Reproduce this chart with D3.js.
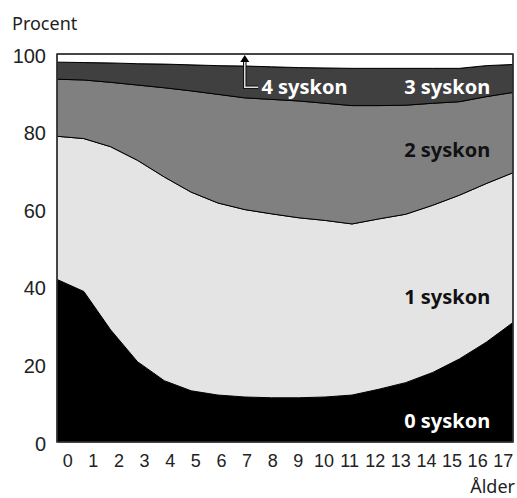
<!DOCTYPE html>
<html>
<head>
<meta charset="utf-8">
<script src="https://cdn.jsdelivr.net/npm/d3@7"></script>
<style>
  body { margin: 0; background: #fff; }
  svg { display: block; font-family: "Noto Sans", sans-serif; }
</style>
</head>
<body>
<div id="chart"></div>
<script>
// ålder 0-17, andel barn (procent) efter antal syskon
const ages = d3.range(0, 18);
const keys = ["s0", "s1", "s2", "s3", "s4"];
const syskon0 = [41.9, 38.8, 28.9, 20.7, 15.8, 13.2, 12.1, 11.6, 11.4, 11.4, 11.6, 12.1, 13.6, 15.3, 17.9, 21.4, 25.7, 30.8];
const syskon1 = [36.9, 39.4, 47.2, 51.9, 52.5, 51.2, 49.5, 48.3, 47.4, 46.4, 45.5, 44.1, 43.9, 43.4, 43.1, 42.2, 40.9, 38.6];
const syskon2 = [14.7, 15.1, 16.6, 19.4, 23.0, 26.1, 28.0, 28.8, 29.5, 30.1, 30.2, 30.5, 29.2, 28.1, 26.3, 24.1, 22.4, 20.7];
const syskon3 = [4.4, 4.5, 5.0, 5.5, 6.1, 6.7, 7.4, 8.2, 8.4, 8.6, 9.1, 9.6, 9.6, 9.5, 9.0, 8.6, 8.0, 7.2];
const syskon4 = [2.1, 2.2, 2.3, 2.5, 2.6, 2.8, 3.0, 3.1, 3.3, 3.5, 3.6, 3.7, 3.7, 3.7, 3.7, 3.7, 3.0, 2.7];
const yTicks = [0, 20, 40, 60, 80, 100];
const seriesLabels = ["0 syskon", "1 syskon", "2 syskon", "3 syskon", "4 syskon"];

const width = 517;
const height = 498;
const margin = { top: 54, right: 4, bottom: 56, left: 57 };

const fills = { s0: "#000", s1: "#e4e4e4", s2: "#808080", s3: "#404040", s4: "#fff" };

const table = ages.map((a, i) => ({
  age: a,
  s0: syskon0[i],
  s1: syskon1[i],
  s2: syskon2[i],
  s3: syskon3[i],
  s4: syskon4[i],
}));

const stacked = d3.stack().keys(keys)(table);

const x = d3.scaleLinear()
  .domain(d3.extent(ages))
  .range([margin.left, width - margin.right]);

const xTick = d3.scalePoint()
  .domain(ages)
  .range([margin.left, width - margin.right])
  .padding(0.4);

const y = d3.scaleLinear()
  .domain([0, 100])
  .range([height - margin.bottom, margin.top]);

const area = d3.area()
  .x((d) => x(d.data.age))
  .y0((d) => y(d[0]))
  .y1((d) => y(d[1]));

const svg = d3.select("#chart")
  .append("svg")
  .attr("width", width)
  .attr("height", height)
  .attr("viewBox", [0, 0, width, height]);

svg.append("g")
  .selectAll("path")
  .data(stacked)
  .join("path")
  .attr("fill", (d) => fills[d.key])
  .attr("stroke", "#000")
  .attr("stroke-width", 1)
  .attr("stroke-linejoin", "round")
  .attr("d", area);

// ram
svg.append("rect")
  .attr("x", margin.left)
  .attr("y", margin.top)
  .attr("width", width - margin.left - margin.right)
  .attr("height", height - margin.top - margin.bottom)
  .attr("fill", "none")
  .attr("stroke", "#333")
  .attr("stroke-width", 1.5);

// y-axel
const gY = svg.append("g")
  .attr("transform", `translate(${margin.left},0)`)
  .call(d3.axisLeft(y).tickValues(yTicks).tickSize(0).tickPadding(11));
gY.select(".domain").remove();
gY.selectAll("text")
  .attr("font-size", 20)
  .attr("fill", "#222")
  .attr("dy", "0.4em");

svg.append("text")
  .attr("x", 12)
  .attr("y", 30)
  .attr("font-size", 18)
  .attr("fill", "#222")
  .text("Procent");

// x-axel
const gX = svg.append("g")
  .attr("transform", `translate(0,${height - margin.bottom})`)
  .call(d3.axisBottom(xTick).tickSize(0).tickPadding(12));
gX.select(".domain").remove();
gX.selectAll("text")
  .attr("font-size", 18)
  .attr("fill", "#222");

svg.append("text")
  .attr("x", width - 2)
  .attr("y", height - 5)
  .attr("text-anchor", "end")
  .attr("font-size", 18)
  .attr("fill", "#222")
  .text("Ålder");

// etiketter
const labelPos = [
  { i: 0, age: 16.15, v: 5.4, anchor: "end", color: "#fff" },
  { i: 1, age: 16.15, v: 37.4, anchor: "end", color: "#111" },
  { i: 2, age: 16.15, v: 75.3, anchor: "end", color: "#111" },
  { i: 3, age: 16.15, v: 91.4, anchor: "end", color: "#fff" },
  { i: 4, age: 7.62, v: 91.4, anchor: "start", color: "#fff" },
];

svg.append("g")
  .selectAll("text")
  .data(labelPos)
  .join("text")
  .attr("x", (d) => x(d.age))
  .attr("y", (d) => y(d.v))
  .attr("dy", "0.35em")
  .attr("text-anchor", (d) => d.anchor)
  .attr("font-size", 20)
  .attr("font-weight", "bold")
  .attr("fill", (d) => d.color)
  .text((d) => seriesLabels[d.i]);

// pil till 4 syskon
const ax = x(7);
const ay = y(91.4);
const arrowPath = `M${x(7.5)},${ay} H${ax} V${y(98.5)}`;
svg.append("path")
  .attr("d", arrowPath)
  .attr("fill", "none")
  .attr("stroke", "#111")
  .attr("stroke-width", 3.5);
svg.append("path")
  .attr("d", arrowPath)
  .attr("fill", "none")
  .attr("stroke", "#ddd")
  .attr("stroke-width", 1.5);
svg.append("path")
  .attr("d", `M${ax},${y(99.0) - 3} l-4.5,7 h9 z`)
  .attr("fill", "#000");
</script>
</body>
</html>
